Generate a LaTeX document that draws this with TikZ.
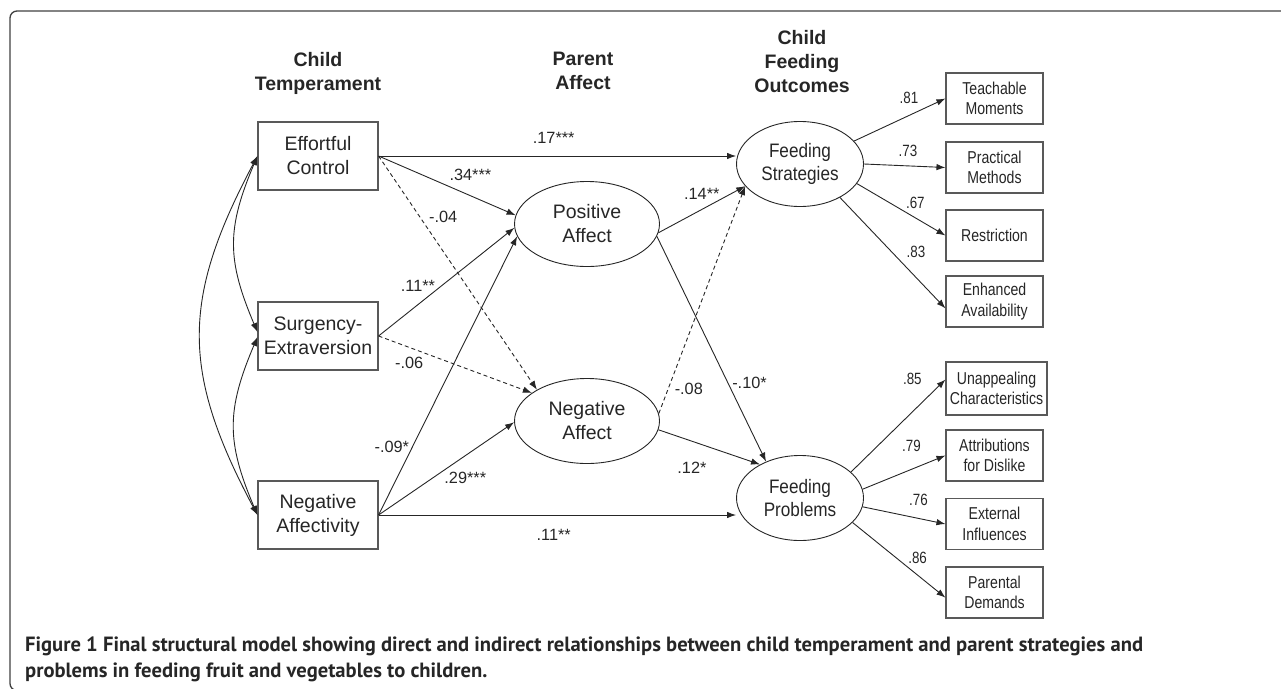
\documentclass[tikz,border=0pt]{standalone}
\usepackage{fontspec}
\setmainfont{Liberation Sans}
\newfontfamily\narrowfont[FakeStretch=0.82]{Liberation Sans}
\newfontfamily\feedfont[FakeStretch=0.88]{Liberation Sans}
\newfontfamily\capfont{PT Sans}
\usetikzlibrary{shapes.geometric,arrows.meta}

\newcommand\mainsize{\fontsize{19.5}{24}\selectfont}
\newcommand\feedsize{\feedfont\fontsize{19.5}{23.5}\selectfont}
\newcommand\indsize{\narrowfont\fontsize{17.2}{20.5}\selectfont}
\newcommand\coefsize{\fontsize{16.3}{18}\selectfont}
\newcommand\narcoefsize{\narrowfont\fontsize{16.3}{18}\selectfont}
\newcommand\capsize{\capfont\bfseries\fontsize{20.6}{26}\selectfont}

\begin{document}
\begin{tikzpicture}[x=1pt, y=-1pt, >={Latex[length=9pt,width=6.5pt]}]
      \tikzstyle{var} = [draw=black!65, line width=1.1pt, minimum width=120pt, minimum height=68pt, inner sep=0pt, align=center, font=\mainsize, text=black!85]
      \tikzstyle{latent} = [ellipse, draw=black!85, line width=0.9pt, minimum width=145pt, minimum height=85pt, inner sep=0pt, align=center, font=\mainsize, text=black!85]
      \tikzstyle{outcome} = [latent, minimum width=127pt, font=\feedsize]
      \tikzstyle{ind} = [draw=black!65, line width=1.1pt, minimum width=97pt, minimum height=51pt, inner sep=0pt, align=center, font=\indsize, text=black!85]
      \tikzstyle{head} = [anchor=north, inner sep=0pt, align=center, font=\mainsize\bfseries, text=black!85]
      \tikzstyle{reg} = [->, draw=black!85, line width=0.9pt]
      \tikzstyle{nsreg} = [reg, dash pattern=on 4pt off 3pt]
      \tikzstyle{cov} = [<->, draw=black!85, line width=0.9pt]
      \tikzstyle{coef} = [draw=none, inner sep=1pt, font=\coefsize, text=black!85]
      \tikzstyle{load} = [coef, font=\narcoefsize]

      \useasboundingbox (0,0) rectangle (1281,688);
      \draw[black!75, line width=1.3pt, rounded corners=7pt] (1300,690.5) -| (10,11) -- (1300,11);

      % column headings
      \node[head] (hct) at (318,52) {Child\\Temperament};
      \node[head] (hpa) at (583,52) {Parent\\Affect};
      \node[head] (hcf) at (802,30) {Child\\Feeding\\Outcomes};

      % child temperament
      \node[var] (ec) at (318,156) {Effortful\\Control};
      \node[var] (se) at (318,336) {Surgency-\\Extraversion};
      \node[var] (na) at (318,515) {Negative\\Affectivity};

      % parent affect
      \node[latent] (pa) at (587,224) {Positive\\Affect};
      \node[latent] (nea) at (587,421) {Negative\\Affect};

      % feeding outcomes
      \node[outcome] (fs) at (800,164) {Feeding\\Strategies};
      \node[outcome] (fp) at (800,498) {Feeding\\Problems};

      \node[ind] (tm) at (994.5,98.5) {Teachable\\Moments};
      \node[ind] (pm) at (994.5,167.5) {Practical\\Methods};
      \node[ind] (re) at (994.5,235.5) {Restriction};
      \node[ind] (ea) at (994.5,301.5) {Enhanced\\Availability};
      \node[ind, minimum width=101pt, minimum height=53pt] (uc) at (996.5,388.5) {Unappealing\\Characteristics};
      \node[ind] (ad) at (994.5,455.5) {Attributions\\for Dislike};
      \node[ind] (ei) at (994.5,524) {External\\Influences};
      \node[ind] (pd) at (994.5,592.5) {Parental\\Demands};

      % correlations
      \draw[cov] (ec.west) to[out=242, in=118, looseness=1.16] (na.west);
      \draw[cov] (ec.west) to[out=247, in=113, looseness=1.15] ([yshift=4pt]se.west);
      \draw[cov] ([yshift=-1pt]se.west) to[out=247, in=113, looseness=1.15] (na.west);

      % temperament -> affect / outcomes
      \path (ec.east) edge[reg] node[coef, pos=0.49, above=11pt]{.17***} (fs.west |- ec.east);
      \path (ec.east) edge[reg] node[coef, pos=0.67, above=14pt]{.34***} (pa.173);
      \path (ec.east) edge[nsreg] node[coef, pos=0.26, right=8pt]{-.04} (nea.148);
      \path (se.east) edge[reg] node[coef, pos=0.29, above=12pt]{.11**} (pa.183);
      \path (se.east) edge[nsreg] node[coef, pos=0.2, below=8pt]{-.06} (nea.153);
      \path (na.east) edge[reg] node[coef, pos=0.245, left=2pt]{-.09*} (pa.190);
      \path (na.east) edge[reg] node[coef, pos=0.64, below=15pt]{.29***} (nea.181);
      \path (na.east) edge[reg] node[coef, pos=0.49, below=13pt]{.11**} (fp.west |- na.east);

      % affect -> outcomes
      \path (pa.353) edge[reg] node[coef, pos=0.5, above=9pt]{.14**} (fs.202);
      \path (pa.350) edge[reg] node[coef, pos=0.65, right=3pt]{-.10*} (fp.133);
      \path (nea.6) edge[nsreg] node[coef, pos=0.11, right=5pt]{-.08} (fs.202);
      \path (nea.353) edge[reg] node[coef, pos=0.33, below=19pt]{.12*} (fp.140);

      % loadings
      \path (fs.23) edge[reg] node[load, pos=0.6, above=10pt]{.81} (tm.west);
      \path (fs.east) edge[reg] node[load, pos=0.54, above=8pt]{.73} (pm.west);
      \path (fs.341) edge[reg] node[load, pos=0.66, above=8pt]{.67} (re.west);
      \path (fs.320) edge[reg] node[load, pos=0.72, above=18pt]{.83} (ea.188);
      \path (fp.27) edge[reg] node[load, pos=0.65, above=26pt]{.85} (uc.170);
      \path (fp.8) edge[reg] node[load, pos=0.59, above=16pt]{.79} (ad.west);
      \path (fp.352) edge[reg] node[load, pos=0.675, above=11pt]{.76} (ei.west);
      \path (fp.335) edge[reg] node[load, pos=0.7, above=10pt]{.86} (pd.186);

      % caption
      \node[anchor=base west, inner sep=0pt, font=\capsize, text=black!85] (cap1) at (25,651) {Figure 1 Final structural model showing direct and indirect relationships between child temperament and parent strategies and};
      \node[anchor=base west, inner sep=0pt, font=\capsize, text=black!85] (cap2) at (25,677) {problems in feeding fruit and vegetables to children.};
\end{tikzpicture}
\end{document}
